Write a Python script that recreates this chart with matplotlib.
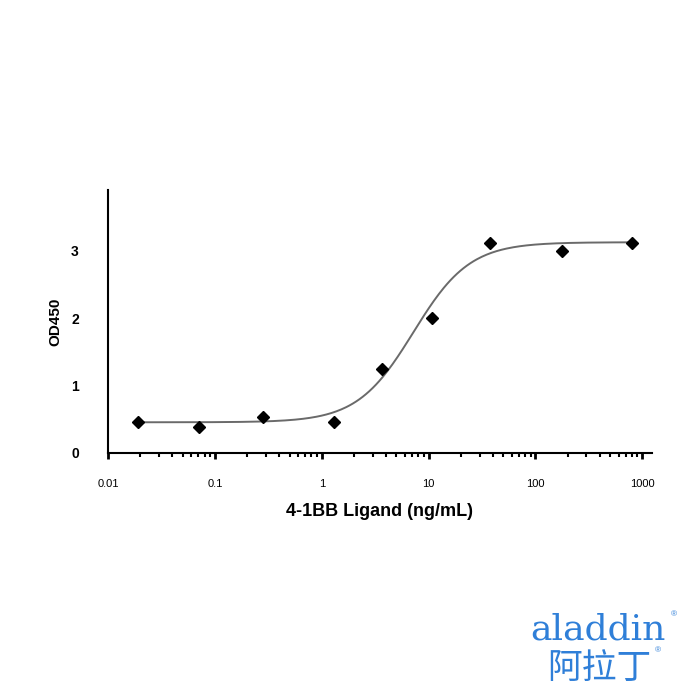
import numpy as np
import matplotlib
matplotlib.use("Agg")
import matplotlib.pyplot as plt
from matplotlib.ticker import LogLocator, FixedLocator, NullFormatter

plt.rcParams['font.family'] = ['Liberation Sans', 'DejaVu Sans']

# measured points (ng/mL, OD450)
conc = [0.019, 0.071, 0.283, 1.30, 3.70, 10.7, 37.7, 178, 806]
od450 = [0.456, 0.386, 0.53, 0.456, 1.24, 2.0, 3.12, 3.0, 3.12]

# 4PL fit
bottom, top, ec50, hill = 0.455, 3.125, 7.2, 1.65

xticks = [0.01, 0.1, 1, 10, 100, 1000]
xticklabels = ['0.01', '0.1', '1', '10', '100', '1000']
yticks = [0, 1, 2, 3]

fig = plt.figure(figsize=(7, 7), dpi=100)
ax = fig.add_axes([0.1543, 0.3529, 0.7771, 0.3757])

xs = np.logspace(np.log10(conc[0]), np.log10(conc[-1]), 300)
fit = bottom + (top - bottom) / (1 + (ec50 / xs) ** hill)
ax.plot(xs, fit, color='#6a6a6a', lw=1.4, zorder=2)
ax.plot(conc, od450, 'D', color='black', ms=6.5, zorder=3)

ax.set_xscale('log')
ax.set_xlim(0.01, 1230)
ax.set_ylim(0, 3.9)

ax.xaxis.set_major_locator(FixedLocator(xticks))
ax.set_xticklabels(xticklabels, fontsize=8)
ax.xaxis.set_minor_locator(LogLocator(base=10, subs=np.arange(2, 10)))
ax.xaxis.set_minor_formatter(NullFormatter())
ax.tick_params(axis='x', which='major', direction='out', length=4, width=2, pad=15)
ax.tick_params(axis='x', which='minor', direction='out', length=3, width=1.5)

ax.set_yticks(yticks)
ax.set_yticklabels([str(v) for v in yticks], fontsize=10, fontweight='bold')
ax.tick_params(axis='y', length=0, pad=21)

for s in ['top', 'right']:
    ax.spines[s].set_visible(False)
for s in ['left', 'bottom']:
    ax.spines[s].set_linewidth(1.5)

ax.set_xlabel('4-1BB Ligand (ng/mL)', fontsize=13, fontweight='bold', labelpad=10)
ax.set_ylabel('OD450', fontsize=11, fontweight='bold', labelpad=6)

# brand mark
blue = '#2f7fd8'
fig.text(0.757, 0.086, 'aladdin', fontsize=26, color=blue, family='DejaVu Serif',
         ha='left', va='baseline')
fig.text(0.958, 0.12, '®', fontsize=6, color=blue, ha='left', va='baseline')
fig.text(0.782, 0.032, '阿拉丁', fontsize=25, color=blue,
         family=['Noto Sans CJK SC', 'DejaVu Sans'], ha='left', va='baseline')
fig.text(0.935, 0.068, '®', fontsize=6, color=blue, ha='left', va='baseline')

fig.savefig('out.png', dpi=100)
